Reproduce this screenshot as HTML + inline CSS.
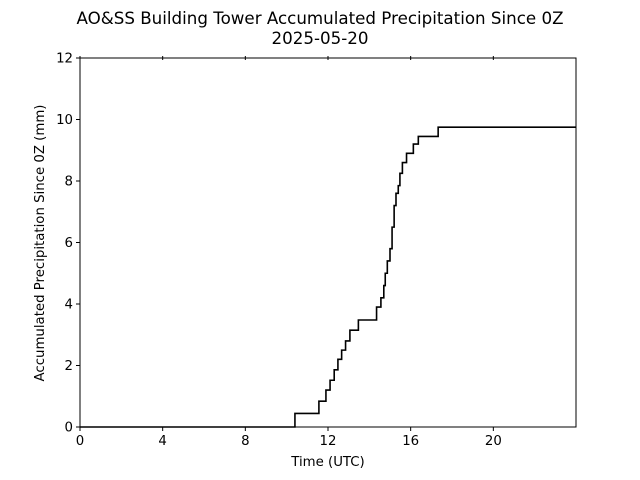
<!DOCTYPE html>
<html><head><meta charset="utf-8"><style>
body{margin:0;background:#fff;}
svg{display:block;font-family:"DejaVu Sans","Liberation Sans",sans-serif;}
</style></head><body>
<svg id="chart" width="640" height="480" viewBox="0 0 640 480">
<rect width="640" height="480" fill="#fff"/>
<text x="320" y="24" text-anchor="middle" font-size="16.7">AO&amp;SS Building Tower Accumulated Precipitation Since 0Z</text>
<text x="320" y="44" text-anchor="middle" font-size="16.7">2025-05-20</text>
<g id="xticks"></g>
<g id="yticks"></g>
<path id="line" fill="none" stroke="#000" stroke-width="1.6"/>
<rect x="80" y="58" width="496" height="369" fill="none" stroke="#000" stroke-width="1"/>
<text x="328" y="466" text-anchor="middle" font-size="13.3">Time (UTC)</text>
<text transform="translate(44,243) rotate(-90)" text-anchor="middle" font-size="13.3">Accumulated Precipitation Since 0Z (mm)</text>
</svg>
<script>
const times = [0,10.4,11.56,11.9,12.1,12.3,12.48,12.66,12.85,13.06,13.47,14.35,14.56,14.7,14.77,14.87,15.0,15.1,15.2,15.29,15.4,15.48,15.6,15.8,16.13,16.37,17.33,24];
const values = [0,0.44,0.84,1.2,1.52,1.86,2.2,2.5,2.8,3.15,3.48,3.9,4.2,4.6,5.0,5.4,5.8,6.5,7.2,7.6,7.85,8.25,8.6,8.9,9.2,9.45,9.75,9.75];
const xTickVals = [0,4,8,12,16,20];
const yTickVals = [0,2,4,6,8,10,12];
const NS='http://www.w3.org/2000/svg';
const X0=80,X1=576,Y0=427,Y1=58;
const xs=h=>X0+(h-0)/24*(X1-X0);
const ys=v=>Y0-(v-0)/12*(Y0-Y1);
let d='M'+xs(times[0])+','+ys(values[0]);
for(let i=1;i<times.length;i++){d+=' H'+xs(times[i])+' V'+ys(values[i]);}
document.getElementById('line').setAttribute('d',d);
const gx=document.getElementById('xticks');
xTickVals.forEach(t=>{
 const x=xs(t);
 const l=document.createElementNS(NS,'line');
 
 
 l.setAttribute('x1',x);l.setAttribute('x2',x);l.setAttribute('y1',Y0);l.setAttribute('y2',Y0+4);l.setAttribute('stroke','#000');
 gx.appendChild(l);
 const l2=document.createElementNS(NS,'line');
 
 
 l2.setAttribute('x1',x);l2.setAttribute('x2',x);l2.setAttribute('y1',Y1-2);l2.setAttribute('y2',Y1+2);l2.setAttribute('stroke','#000');
 gx.appendChild(l2);
 const tx=document.createElementNS(NS,'text');
 
 
 tx.setAttribute('x',x);tx.setAttribute('y',Y0+18);tx.setAttribute('text-anchor','middle');tx.setAttribute('font-size','13.3');
 tx.textContent=t;gx.appendChild(tx);
});
const gy=document.getElementById('yticks');
yTickVals.forEach(t=>{
 const y=ys(t);
 const l=document.createElementNS(NS,'line');
 
 
 l.setAttribute('x1',X0-4);l.setAttribute('x2',X0);l.setAttribute('y1',y);l.setAttribute('y2',y);l.setAttribute('stroke','#000');
 gy.appendChild(l);
 const tx=document.createElementNS(NS,'text');
 
 
 tx.setAttribute('x',X0-7);tx.setAttribute('y',y+4.5);tx.setAttribute('text-anchor','end');tx.setAttribute('font-size','13.3');
 tx.textContent=t;gy.appendChild(tx);
});
</script>
</body></html>
